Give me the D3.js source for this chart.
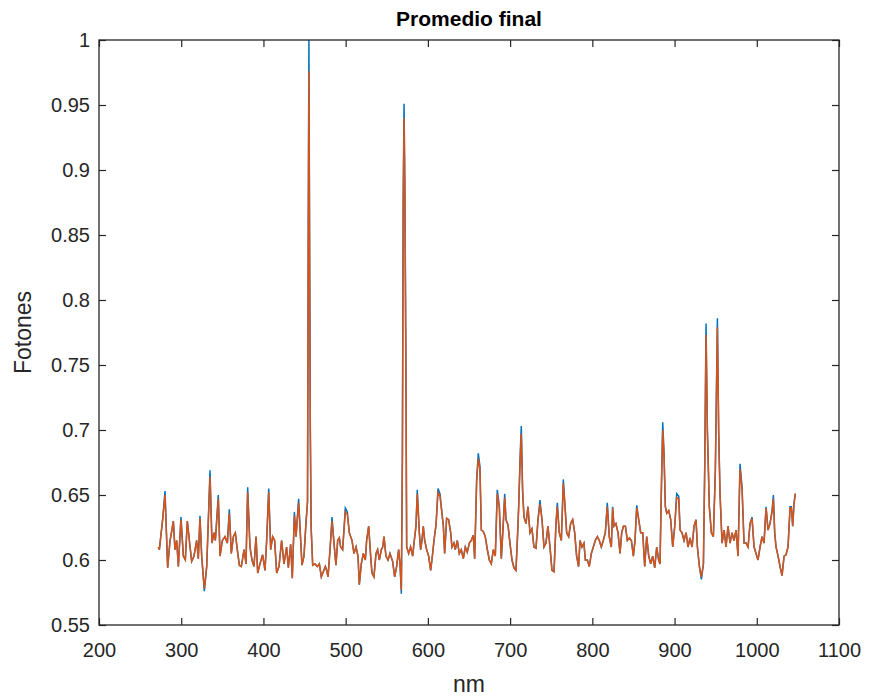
<!DOCTYPE html>
<html lang="es">
<head>
<meta charset="UTF-8">
<title>Promedio final</title>
<style>
  body { margin: 0; background: #fff; }
  svg { display: block; font-family: "Liberation Sans", Arial, Helvetica, sans-serif; }
</style>
</head>
<body>
<svg id="chart" width="870" height="698"></svg>
<script src="https://d3js.org/d3.v7.min.js"></script>
<script>
// longitud de onda (nm)
const nm = [
  272.2,273.4,277.4,280.3,283.5,286.4,288.4,290.4,292.4,294.5,296.5,299.7,302.6,305.0,307.4,309.9,312.7,315.5,318.8,320.8,
  322.8,324.9,328.1,331.0,333.0,335.0,337.4,339.9,341.5,345.1,347.2,350.0,353.2,356.1,358.5,360.9,363.4,365.8,368.2,370.7,
  373.1,376.4,378.8,380.8,383.6,386.1,388.5,391.0,393.0,395.8,399.0,401.9,403.9,406.4,408.8,411.2,413.6,416.1,
  418.9,422.1,425.0,428.2,430.3,433.1,435.1,437.6,439.6,442.8,445.3,446.9,449.3,451.7,453.6,454.5,455.3,456.1,457.0,458.0,459.9,
  462.7,465.5,468.0,470.4,472.8,475.3,476.9,478.5,481.0,483.4,485.8,488.2,490.3,492.3,493.9,496.3,499.6,502.0,504.4,507.7,
  510.1,512.6,515.0,516.6,519.0,521.5,523.9,525.5,528.0,530.4,532.0,534.4,536.9,538.9,540.9,543.4,545.0,546.6,549.0,551.5,
  553.9,557.1,559.6,562.0,564.4,566.1,567.7,
  569.0,570.0,571.0,572.0,573.2,574.2,
  576.6,579.0,581.5,583.1,585.5,587.1,589.6,591.2,592.8,594.4,596.1,598.5,600.9,603.4,605.8,607.4,609.9,612.3,614.7,
  618.8,620.4,622.8,625.2,627.7,629.3,631.7,633.3,635.8,638.2,640.6,643.1,645.5,647.9,650.4,652.8,655.2,656.9,659.3,661.3,
  663.3,665.0,667.4,669.8,672.3,674.7,677.1,679.6,682.0,684.4,686.9,689.3,691.7,693.4,695.0,697.4,699.8,702.3,704.7,707.1,
  708.8,710.4,712.0,713.6,715.2,716.9,719.3,721.7,724.2,726.6,729.0,731.5,733.9,736.3,738.8,741.2,743.6,746.0,748.5,750.9,
  753.4,755.8,757.4,759.8,762.3,764.7,767.1,768.8,771.2,773.6,776.1,778.5,780.9,783.3,785.0,787.4,789.8,791.5,793.9,796.3,
  798.8,801.2,803.6,806.1,808.5,810.9,813.3,815.8,818.2,820.6,823.1,824.7,826.3,828.7,831.2,
  833.7,835.7,837.8,840.2,842.6,845.1,847.5,849.9,851.9,854.0,856.4,858.8,861.3,863.7,866.1,868.6,871.0,873.4,875.9,878.3,
  880.7,882.3,884.0,885.6,887.2,888.8,890.5,892.9,895.3,897.8,900.2,902.6,905.1,906.7,909.1,911.5,914.0,916.4,918.8,921.3,
  923.7,926.1,927.8,930.2,932.6,935.1,936.7,938.3,939.9,942.3,944.8,947.2,949.6,952.1,953.7,955.3,957.8,960.2,962.6,965.0,
  967.5,969.9,972.3,974.8,977.2,979.6,982.1,984.5,987.0,989.4,991.8,994.2,996.7,999.1,1001.5,1004.0,1006.4,1008.8,1011.3,1013.7,
  1016.1,1018.6,1020.2,1021.8,1023.4,1025.9,1028.3,1030.7,1033.2,1035.6,1038.0,1040.5,1042.1,1043.7,1045.3,1046.9
];

// serie azul
const promedio = [
  0.610,0.608,0.631,0.653,0.594,0.615,0.622,0.630,0.608,0.615,0.595,0.633,0.603,0.600,0.630,0.615,0.599,0.603,0.615,0.601,
  0.634,0.603,0.576,0.595,0.631,0.669,0.613,0.621,0.615,0.650,0.603,0.615,0.618,0.613,0.639,0.605,0.618,0.621,0.608,0.596,
  0.595,0.608,0.597,0.656,0.610,0.600,0.595,0.618,0.590,0.597,0.604,0.592,0.615,0.655,0.608,0.618,0.615,0.590,
  0.595,0.615,0.597,0.610,0.594,0.612,0.586,0.637,0.618,0.647,0.615,0.596,0.603,0.628,0.645,0.860,1.000,0.850,0.700,0.625,0.596,
  0.597,0.595,0.597,0.587,0.591,0.595,0.592,0.587,0.608,0.633,0.613,0.596,0.615,0.617,0.610,0.608,0.640,0.637,0.621,0.615,
  0.605,0.610,0.603,0.581,0.597,0.605,0.600,0.615,0.626,0.603,0.590,0.587,0.605,0.608,0.600,0.608,0.610,0.618,0.603,0.600,
  0.605,0.599,0.587,0.595,0.608,0.597,0.574,
  0.680,0.880,0.951,0.890,0.760,0.610,
  0.605,0.610,0.603,0.613,0.626,0.654,0.621,0.608,0.615,0.626,0.615,0.608,0.603,0.592,0.605,0.615,0.627,0.655,0.651,
  0.626,0.605,0.632,0.631,0.621,0.610,0.613,0.608,0.615,0.605,0.608,0.601,0.610,0.606,0.613,0.615,0.619,0.601,0.662,0.682,
  0.672,0.623,0.622,0.618,0.608,0.600,0.597,0.608,0.603,0.654,0.641,0.601,0.628,0.651,0.631,0.627,0.613,0.600,0.594,0.592,
  0.615,0.641,0.677,0.703,0.654,0.633,0.628,0.641,0.621,0.624,0.610,0.609,0.631,0.646,0.631,0.610,0.613,0.626,0.610,0.592,
  0.591,0.628,0.644,0.621,0.615,0.662,0.638,0.621,0.618,0.628,0.631,0.621,0.603,0.595,0.615,0.610,0.613,0.600,0.600,0.595,
  0.605,0.610,0.615,0.618,0.615,0.610,0.615,0.621,0.644,0.618,0.610,0.641,0.626,0.628,0.621,
  0.605,0.621,0.626,0.626,0.615,0.617,0.615,0.603,0.615,0.642,0.631,0.621,0.621,0.595,0.618,0.603,0.597,0.603,0.594,0.610,
  0.600,0.597,0.656,0.706,0.682,0.641,0.636,0.638,0.631,0.610,0.626,0.651,0.649,0.623,0.621,0.615,0.621,0.610,0.617,0.610,
  0.626,0.631,0.610,0.595,0.585,0.597,0.672,0.782,0.700,0.641,0.621,0.618,0.669,0.786,0.697,0.651,0.613,0.623,0.610,0.626,
  0.613,0.621,0.615,0.623,0.603,0.674,0.656,0.613,0.613,0.610,0.628,0.633,0.610,0.605,0.600,0.610,0.618,0.613,0.641,0.623,
  0.628,0.638,0.650,0.621,0.610,0.603,0.595,0.588,0.603,0.604,0.610,0.641,0.641,0.626,0.644,0.651
];

// serie naranja (suavizada)
const promedioFinal = [
  0.610,0.608,0.631,0.650,0.594,0.615,0.622,0.630,0.608,0.615,0.595,0.631,0.603,0.600,0.630,0.615,0.599,0.603,0.615,0.601,
  0.632,0.603,0.578,0.595,0.631,0.664,0.613,0.621,0.615,0.647,0.603,0.615,0.618,0.613,0.636,0.605,0.618,0.621,0.608,0.596,
  0.595,0.608,0.597,0.652,0.610,0.600,0.595,0.618,0.590,0.597,0.604,0.592,0.615,0.652,0.608,0.618,0.615,0.590,
  0.595,0.615,0.597,0.610,0.594,0.612,0.586,0.634,0.618,0.644,0.615,0.596,0.603,0.628,0.645,0.840,0.976,0.840,0.700,0.625,0.596,
  0.597,0.595,0.597,0.587,0.591,0.595,0.592,0.587,0.608,0.630,0.613,0.596,0.615,0.617,0.610,0.608,0.637,0.635,0.621,0.615,
  0.605,0.610,0.603,0.581,0.597,0.605,0.600,0.615,0.626,0.603,0.590,0.587,0.605,0.608,0.600,0.608,0.610,0.618,0.603,0.600,
  0.605,0.599,0.587,0.595,0.608,0.597,0.577,
  0.680,0.870,0.940,0.880,0.750,0.610,
  0.605,0.610,0.603,0.613,0.626,0.651,0.621,0.608,0.615,0.626,0.615,0.608,0.603,0.592,0.605,0.615,0.627,0.652,0.649,
  0.626,0.605,0.632,0.631,0.621,0.610,0.613,0.608,0.615,0.605,0.608,0.601,0.610,0.606,0.613,0.615,0.619,0.601,0.660,0.678,
  0.670,0.623,0.622,0.618,0.608,0.600,0.597,0.608,0.603,0.651,0.640,0.601,0.628,0.648,0.631,0.627,0.613,0.600,0.594,0.592,
  0.615,0.640,0.672,0.697,0.652,0.633,0.628,0.641,0.621,0.624,0.610,0.609,0.631,0.643,0.631,0.610,0.613,0.626,0.610,0.592,
  0.591,0.628,0.641,0.621,0.615,0.659,0.638,0.621,0.618,0.628,0.631,0.621,0.603,0.595,0.615,0.610,0.613,0.600,0.600,0.595,
  0.605,0.610,0.615,0.618,0.615,0.610,0.615,0.621,0.641,0.618,0.610,0.640,0.626,0.628,0.621,
  0.605,0.621,0.626,0.626,0.615,0.617,0.615,0.603,0.615,0.640,0.631,0.621,0.621,0.595,0.618,0.603,0.597,0.603,0.594,0.610,
  0.600,0.597,0.654,0.700,0.680,0.641,0.636,0.638,0.631,0.610,0.626,0.648,0.647,0.623,0.621,0.615,0.621,0.610,0.617,0.610,
  0.626,0.631,0.610,0.595,0.587,0.597,0.670,0.773,0.700,0.641,0.621,0.618,0.667,0.779,0.697,0.651,0.613,0.623,0.610,0.626,
  0.613,0.621,0.615,0.623,0.603,0.670,0.654,0.613,0.613,0.610,0.628,0.632,0.610,0.605,0.600,0.610,0.618,0.613,0.640,0.623,
  0.628,0.637,0.647,0.621,0.610,0.603,0.595,0.588,0.603,0.604,0.610,0.640,0.640,0.626,0.643,0.651
];

const xTicks = [200, 300, 400, 500, 600, 700, 800, 900, 1000, 1100];
const yTicks = [0.55, 0.6, 0.65, 0.7, 0.75, 0.8, 0.85, 0.9, 0.95, 1];

const width = 870, height = 698;
const margin = {top: 40, right: 31, bottom: 73, left: 99};
const ink = '#262626';

const svg = d3.select('#chart');
svg.append('rect').attr('width', width).attr('height', height).attr('fill', '#fff');

const x = d3.scaleLinear().domain([200, 1100]).range([margin.left, width - margin.right]);
const y = d3.scaleLinear().domain([0.55, 1]).range([height - margin.bottom, margin.top]);

const line = d3.line().x(d => x(d[0])).y(d => y(d[1]));

// azul debajo, naranja encima
svg.append('path')
  .datum(nm.map((v, i) => [v, promedio[i]]))
  .attr('fill', 'none')
  .attr('stroke', '#0072BD')
  .attr('stroke-width', 1.5)
  .attr('d', line);

svg.append('path')
  .datum(nm.map((v, i) => [v, promedioFinal[i]]))
  .attr('fill', 'none')
  .attr('stroke', '#D95319')
  .attr('stroke-width', 1.5)
  .attr('d', line);

// ejes con marcas hacia dentro
const fmtY = d => String(+d.toFixed(2));

const gx = svg.append('g')
  .attr('transform', `translate(0,${height - margin.bottom})`)
  .call(d3.axisBottom(x).tickValues(xTicks).tickFormat(d3.format('d'))
    .tickSizeInner(-7).tickSizeOuter(0).tickPadding(18));

const gxTop = svg.append('g')
  .attr('transform', `translate(0,${margin.top})`)
  .call(d3.axisTop(x).tickValues(xTicks).tickFormat('')
    .tickSizeInner(-7).tickSizeOuter(0));

const gy = svg.append('g')
  .attr('transform', `translate(${margin.left},0)`)
  .call(d3.axisLeft(y).tickValues(yTicks).tickFormat(fmtY)
    .tickSizeInner(-7).tickSizeOuter(0).tickPadding(9));

const gyRight = svg.append('g')
  .attr('transform', `translate(${width - margin.right},0)`)
  .call(d3.axisRight(y).tickValues(yTicks).tickFormat('')
    .tickSizeInner(-7).tickSizeOuter(0));

[gx, gxTop, gy, gyRight].forEach(g => {
  g.selectAll('.domain').remove();
  g.selectAll('.tick line').attr('stroke', ink).attr('stroke-width', 1.2);
  g.selectAll('.tick text')
    .attr('fill', ink)
    .style('font-size', '20px')
    .style('font-family', '"Liberation Sans", Arial, sans-serif');
});

// marco
svg.append('rect')
  .attr('x', margin.left)
  .attr('y', margin.top)
  .attr('width', width - margin.left - margin.right)
  .attr('height', height - margin.top - margin.bottom)
  .attr('fill', 'none')
  .attr('stroke', ink)
  .attr('stroke-width', 1.3);

// textos
const cx = (margin.left + width - margin.right) / 2;

svg.append('text')
  .attr('x', cx)
  .attr('y', 26)
  .attr('text-anchor', 'middle')
  .attr('fill', '#000')
  .style('font-size', '21px')
  .style('font-weight', 'bold')
  .text('Promedio final');

svg.append('text')
  .attr('x', cx)
  .attr('y', 692)
  .attr('text-anchor', 'middle')
  .attr('fill', ink)
  .style('font-size', '23px')
  .text('nm');

svg.append('text')
  .attr('transform', `translate(31,${(margin.top + height - margin.bottom) / 2}) rotate(-90)`)
  .attr('text-anchor', 'middle')
  .attr('fill', ink)
  .style('font-size', '23px')
  .text('Fotones');
</script>
</body>
</html>
